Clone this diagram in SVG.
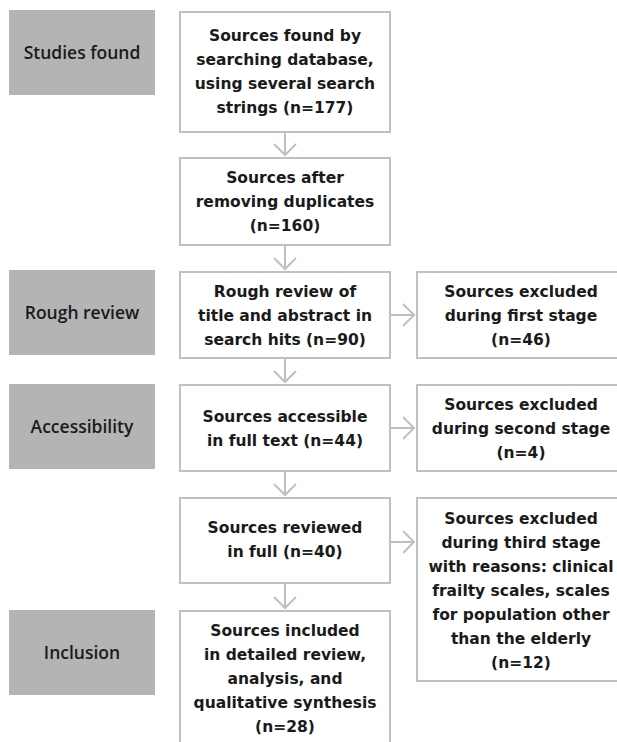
<svg xmlns="http://www.w3.org/2000/svg" width="617" height="742" viewBox="0 0 617 742">
<style>
.bg{fill:#ffffff}
.stage{fill:#b4b4b4}
.box{fill:#ffffff;stroke:#c0c0c0;stroke-width:2}
.lbl{font-family:"DejaVu Sans",sans-serif;font-weight:bold;font-size:15.5px;fill:#1a1a1a;text-anchor:middle}
.stg{font-family:"Open Sans","Noto Sans",sans-serif;font-weight:600;font-size:17.5px;fill:#1a1a1a;text-anchor:middle}
.conn{stroke:#c0c0c0;stroke-width:2;fill:none}
</style>
<defs>
<marker id="chev" markerUnits="userSpaceOnUse" markerWidth="16" markerHeight="26" refX="12" refY="12" orient="auto" viewBox="0 0 16 26">
<path d="M1,1 L12,12 L1,23" fill="none" stroke="#c0c0c0" stroke-width="2"/>
</marker>
</defs>
<rect class="bg" x="0" y="0" width="617" height="742"/>

<g id="stage-studies-found">
<rect class="stage" x="9" y="10" width="146" height="85"/>
<text class="stg" x="82" y="58.5">Studies found</text>
</g>
<g id="stage-rough-review">
<rect class="stage" x="9" y="270" width="146" height="85"/>
<text class="stg" x="82" y="318.5">Rough review</text>
</g>
<g id="stage-accessibility">
<rect class="stage" x="9" y="384" width="146" height="85"/>
<text class="stg" x="82" y="432.5">Accessibility</text>
</g>
<g id="stage-inclusion">
<rect class="stage" x="9" y="610" width="146" height="85"/>
<text class="stg" x="82" y="658.5">Inclusion</text>
</g>

<g id="n1">
<rect class="box" x="180" y="12" width="210" height="120"/>
<text class="lbl" x="285" y="41">Sources found by</text>
<text class="lbl" x="285" y="65">searching database,</text>
<text class="lbl" x="285" y="89">using several search</text>
<text class="lbl" x="285" y="113">strings (n=177)</text>
</g>
<g id="n2">
<rect class="box" x="180" y="158" width="210" height="87"/>
<text class="lbl" x="285" y="183">Sources after</text>
<text class="lbl" x="285" y="207">removing duplicates</text>
<text class="lbl" x="285" y="231">(n=160)</text>
</g>
<g id="n3">
<rect class="box" x="180" y="272" width="210" height="86"/>
<text class="lbl" x="285" y="297">Rough review of</text>
<text class="lbl" x="285" y="321">title and abstract in</text>
<text class="lbl" x="285" y="345">search hits (n=90)</text>
</g>
<g id="x1">
<rect class="box" x="417" y="272" width="210" height="86"/>
<text class="lbl" x="521" y="297">Sources excluded</text>
<text class="lbl" x="521" y="321">during first stage</text>
<text class="lbl" x="521" y="345">(n=46)</text>
</g>
<g id="n4">
<rect class="box" x="180" y="385" width="210" height="86"/>
<text class="lbl" x="285" y="422">Sources accessible</text>
<text class="lbl" x="285" y="446">in full text (n=44)</text>
</g>
<g id="x2">
<rect class="box" x="417" y="385" width="210" height="86"/>
<text class="lbl" x="521" y="410">Sources excluded</text>
<text class="lbl" x="521" y="434">during second stage</text>
<text class="lbl" x="521" y="458">(n=4)</text>
</g>
<g id="n5">
<rect class="box" x="180" y="498" width="210" height="85"/>
<text class="lbl" x="285" y="533">Sources reviewed</text>
<text class="lbl" x="285" y="557">in full (n=40)</text>
</g>
<g id="x3">
<rect class="box" x="417" y="498" width="210" height="183"/>
<text class="lbl" x="521" y="523.5">Sources excluded</text>
<text class="lbl" x="521" y="547.5">during third stage</text>
<text class="lbl" x="521" y="571.5">with reasons: clinical</text>
<text class="lbl" x="521" y="595.5">frailty scales, scales</text>
<text class="lbl" x="521" y="619.5">for population other</text>
<text class="lbl" x="521" y="643.5">than the elderly</text>
<text class="lbl" x="521" y="667.5">(n=12)</text>
</g>
<g id="n6">
<rect class="box" x="180" y="611" width="210" height="140"/>
<text class="lbl" x="285" y="636">Sources included</text>
<text class="lbl" x="285" y="660">in detailed review,</text>
<text class="lbl" x="285" y="684">analysis, and</text>
<text class="lbl" x="285" y="708">qualitative synthesis</text>
<text class="lbl" x="285" y="732">(n=28)</text>
</g>

<g id="connectors">
<line class="conn" x1="285" y1="133" x2="285" y2="155" marker-end="url(#chev)"/>
<line class="conn" x1="285" y1="246" x2="285" y2="269" marker-end="url(#chev)"/>
<line class="conn" x1="285" y1="359" x2="285" y2="382" marker-end="url(#chev)"/>
<line class="conn" x1="285" y1="472" x2="285" y2="495" marker-end="url(#chev)"/>
<line class="conn" x1="285" y1="584" x2="285" y2="608" marker-end="url(#chev)"/>
<line class="conn" x1="391" y1="315" x2="414" y2="315" marker-end="url(#chev)"/>
<line class="conn" x1="391" y1="428" x2="414" y2="428" marker-end="url(#chev)"/>
<line class="conn" x1="391" y1="542" x2="414" y2="542" marker-end="url(#chev)"/>
</g>
</svg>
